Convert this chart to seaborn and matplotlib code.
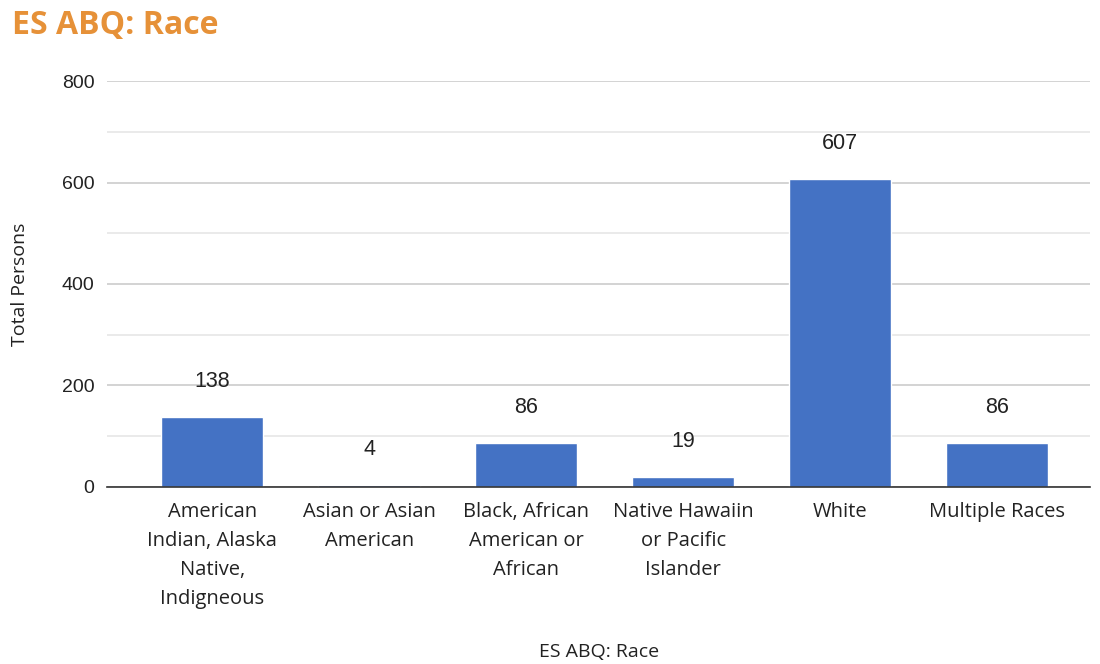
import matplotlib
matplotlib.use("Agg")
import matplotlib.pyplot as plt
from matplotlib.ticker import MultipleLocator
import seaborn as sns
import pandas as pd

## Data
categories = ["American\nIndian, Alaska\nNative,\nIndigneous",
              "Asian or Asian\nAmerican",
              "Black, African\nAmerican or\nAfrican",
              "Native Hawaiin\nor Pacific\nIslander",
              "White",
              "Multiple Races"]
totals = [138, 4, 86, 19, 607, 86]

df = pd.DataFrame({"race": categories, "total": totals})

sns.set_theme(style="white")
plt.rcParams['font.family'] = ['Liberation Sans', 'DejaVu Sans']

fig = plt.figure(figsize=(11, 6.64), dpi=100)
ax = fig.add_axes([0.0973, 0.2666, 0.8937, 0.6114])

sns.barplot(data=df, x="race", y="total", color="#4472C4", width=0.65,
            saturation=1, ax=ax, zorder=3)

ax.set_ylim(0, 800)
ax.set_xlim(-0.67, 5.59)
ax.yaxis.set_major_locator(MultipleLocator(200))
ax.yaxis.set_minor_locator(MultipleLocator(100))
ax.grid(axis='y', which='major', color='#c8c8c8', lw=1.1, zorder=0)
ax.grid(axis='y', which='minor', color='#e4e4e4', lw=1.1, zorder=0)
ax.set_axisbelow(True)
for s in ['top', 'right', 'left']:
    ax.spines[s].set_visible(False)
ax.spines['bottom'].set_color('#333333')
ax.spines['bottom'].set_linewidth(1.2)
ax.spines['bottom'].set_zorder(4)

ax.tick_params(axis='y', which='both', length=0, pad=9, labelsize=14, labelcolor='#222222')
ax.tick_params(axis='x', length=0, pad=10.5)
for lab in ax.get_xticklabels():
    lab.set_fontfamily('Open Sans')
    lab.set_fontsize(14.5)
    lab.set_linespacing(1.6)
    lab.set_color('#222222')

ax.bar_label(ax.containers[0], padding=18, fontsize=15.5, color='#222222')

ax.set_xlabel("ES ABQ: Race", family='Open Sans', fontsize=14, color='#222222')
ax.set_ylabel("Total Persons", family='Open Sans', fontsize=14, color='#222222')
ax.xaxis.label.set_va('center')
ax.yaxis.label.set_va('center')
ax.xaxis.set_label_coords(0.5, -0.406)
ax.yaxis.set_label_coords(-0.0885, 0.5)

fig.text(0.011, 0.962, "ES ABQ: Race", family='Open Sans', fontweight='bold',
         fontsize=23, color='#E69138', va='center', ha='left')

fig.savefig("out.png", dpi=100)
